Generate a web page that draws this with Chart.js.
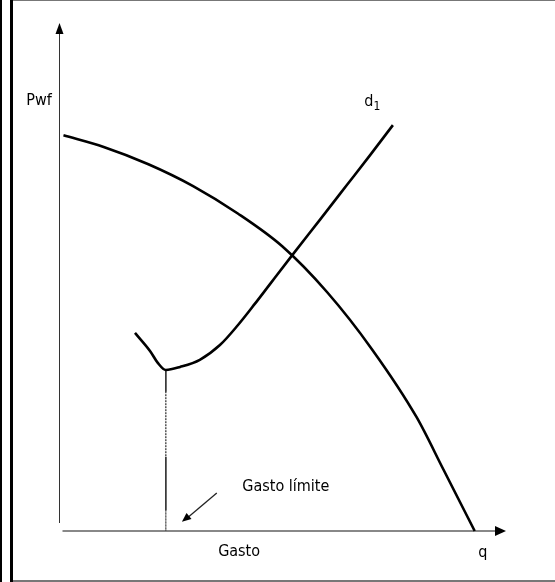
<!DOCTYPE html>
<html>
<head>
<meta charset="utf-8">
<script src="https://cdn.jsdelivr.net/npm/chart.js@4"></script>
<style>
  html, body { margin: 0; padding: 0; background: #fff; }
  canvas { display: block; }
</style>
</head>
<body>
<canvas id="chart" width="555" height="582"></canvas>
<script>
// Curva IPR (Pwf vs q), unidades relativas 0-100
const qIpr = [1, 10, 20, 30, 40, 50, 60, 70, 80, 86, 93];
const pIpr = [77.9, 75.6, 72.2, 67.9, 62.5, 56.0, 47.0, 35.8, 22.4, 12.1, 0];

// Curva de la tuberia d1
const qD1 = [17.0, 20.4, 22.1, 23.9, 27.1, 31.5, 36.0, 40.0, 43.8, 47.2, 52.1, 58.4, 64.4, 69.6, 74.7];
const pD1 = [39.0, 35.4, 33.1, 31.7, 32.3, 33.7, 36.6, 40.5, 44.7, 48.6, 54.2, 61.3, 68.1, 74.0, 79.9];

// Textos
const yAxisLabel = 'Pwf';
const xAxisLabel = 'q';
const xAxisTitle = 'Gasto';
const limitLabel = 'Gasto límite';
const curveLabel = ['d', '1'];

// el gasto limite es el minimo de la curva d1
const minIdx = pD1.indexOf(Math.min(...pD1));
const qLimit = qD1[minIdx];
const pLimit = pD1[minIdx];
// niveles donde la linea vertical cambia de continua a punteada
const dropLevels = [pLimit, 27.4, 14.6, 4.1, 0];
const dottedSegs = [1, 3];

const toPoints = (xs, ys) => xs.map((x, i) => ({ x: x, y: ys[i] }));

const FAMILY = '"DejaVu Sans Condensed", "DejaVu Sans", sans-serif';

const decor = {
    id: 'decor',
    beforeDraw(chart) {
        const ctx = chart.ctx;
        ctx.save();
        ctx.fillStyle = '#fff';
        ctx.fillRect(0, 0, chart.width, chart.height);
        // marco
        ctx.fillStyle = '#000';
        ctx.fillRect(0, 0, 2, chart.height);
        ctx.fillRect(10, 0, 3, chart.height);
        ctx.fillStyle = '#777';
        ctx.fillRect(13, 0, chart.width - 13, 1);
        ctx.fillRect(13, chart.height - 2, chart.width - 13, 2);
        ctx.restore();
    },
    beforeDatasetsDraw(chart) {
        const ctx = chart.ctx;
        const X = v => chart.scales.x.getPixelForValue(v);
        const Y = v => chart.scales.y.getPixelForValue(v);
        const x0 = Math.round(X(0)) + 0.5;
        const y0 = Math.round(Y(0));
        ctx.save();
        // eje vertical
        ctx.strokeStyle = '#333';
        ctx.lineWidth = 1;
        ctx.beginPath();
        ctx.moveTo(x0, Y(100) + 8);
        ctx.lineTo(x0, y0 - 8);
        ctx.stroke();
        ctx.fillStyle = '#000';
        ctx.beginPath();
        ctx.moveTo(x0, Y(100));
        ctx.lineTo(x0 - 4, Y(100) + 11);
        ctx.lineTo(x0 + 4, Y(100) + 11);
        ctx.closePath();
        ctx.fill();
        // eje horizontal
        ctx.strokeStyle = '#888';
        ctx.lineWidth = 2;
        ctx.beginPath();
        ctx.moveTo(x0 + 3, y0);
        ctx.lineTo(X(100) - 8, y0);
        ctx.stroke();
        ctx.beginPath();
        ctx.moveTo(X(100), y0);
        ctx.lineTo(X(100) - 11, y0 - 5);
        ctx.lineTo(X(100) - 11, y0 + 5);
        ctx.closePath();
        ctx.fill();
        ctx.restore();
    },
    afterDatasetsDraw(chart) {
        const ctx = chart.ctx;
        const X = v => chart.scales.x.getPixelForValue(v);
        const Y = v => chart.scales.y.getPixelForValue(v);
        ctx.save();
        ctx.fillStyle = '#000';
        ctx.font = '16px ' + FAMILY;
        ctx.textBaseline = 'middle';
        ctx.textAlign = 'left';
        ctx.fillText(yAxisLabel, X(-7.3), Y(84.6));
        ctx.fillText(xAxisTitle, X(35.6), Y(-4.1));
        ctx.fillText(xAxisLabel, X(93.8), Y(-4.3));
        ctx.fillText(limitLabel, X(41.0), Y(8.7));
        // d1 con subindice
        const dx = X(68.3);
        ctx.fillText(curveLabel[0], dx, Y(84.5));
        const w = ctx.measureText(curveLabel[0]).width;
        ctx.font = '12px ' + FAMILY;
        ctx.fillText(curveLabel[1], dx + w, Y(83.5));
        // flecha del gasto limite
        const ax0 = X(35.3), ay0 = Y(7.5);
        const ax1 = X(27.5), ay1 = Y(1.8);
        ctx.strokeStyle = '#222';
        ctx.lineWidth = 1.3;
        ctx.beginPath();
        ctx.moveTo(ax0, ay0);
        ctx.lineTo(ax1 + 5, ay1 - 3.6);
        ctx.stroke();
        const ang = Math.atan2(ay1 - ay0, ax1 - ax0);
        ctx.fillStyle = '#000';
        ctx.beginPath();
        ctx.moveTo(ax1, ay1);
        ctx.lineTo(ax1 - 10 * Math.cos(ang - 0.4), ay1 - 10 * Math.sin(ang - 0.4));
        ctx.lineTo(ax1 - 10 * Math.cos(ang + 0.4), ay1 - 10 * Math.sin(ang + 0.4));
        ctx.closePath();
        ctx.fill();
        ctx.restore();
    }
};

new Chart(document.getElementById('chart'), {
    type: 'scatter',
    data: {
        datasets: [
            {
                label: 'IPR',
                data: toPoints(qIpr, pIpr),
                showLine: true,
                borderColor: '#000',
                borderWidth: 2.6,
                pointRadius: 0,
                cubicInterpolationMode: 'monotone',
                clip: false
            },
            {
                label: 'd1',
                data: toPoints(qD1, pD1),
                showLine: true,
                borderColor: '#000',
                borderWidth: 2.6,
                pointRadius: 0,
                cubicInterpolationMode: 'monotone',
                clip: false
            },
            {
                label: 'Gasto límite',
                data: dropLevels.map(p => ({ x: qLimit, y: p })),
                showLine: true,
                borderColor: '#333',
                borderWidth: 1,
                pointRadius: 0,
                segment: {
                    borderDash: c => dottedSegs.includes(c.p0DataIndex) ? [1, 2] : undefined
                },
                clip: false
            }
        ]
    },
    options: {
        responsive: false,
        animation: false,
        events: [],
        layout: { padding: { left: 59, right: 49, top: 23, bottom: 51 } },
        scales: {
            x: { type: 'linear', min: 0, max: 100, display: false },
            y: { type: 'linear', min: 0, max: 100, display: false }
        },
        plugins: {
            legend: { display: false },
            tooltip: { enabled: false }
        }
    },
    plugins: [decor]
});
</script>
</body>
</html>
